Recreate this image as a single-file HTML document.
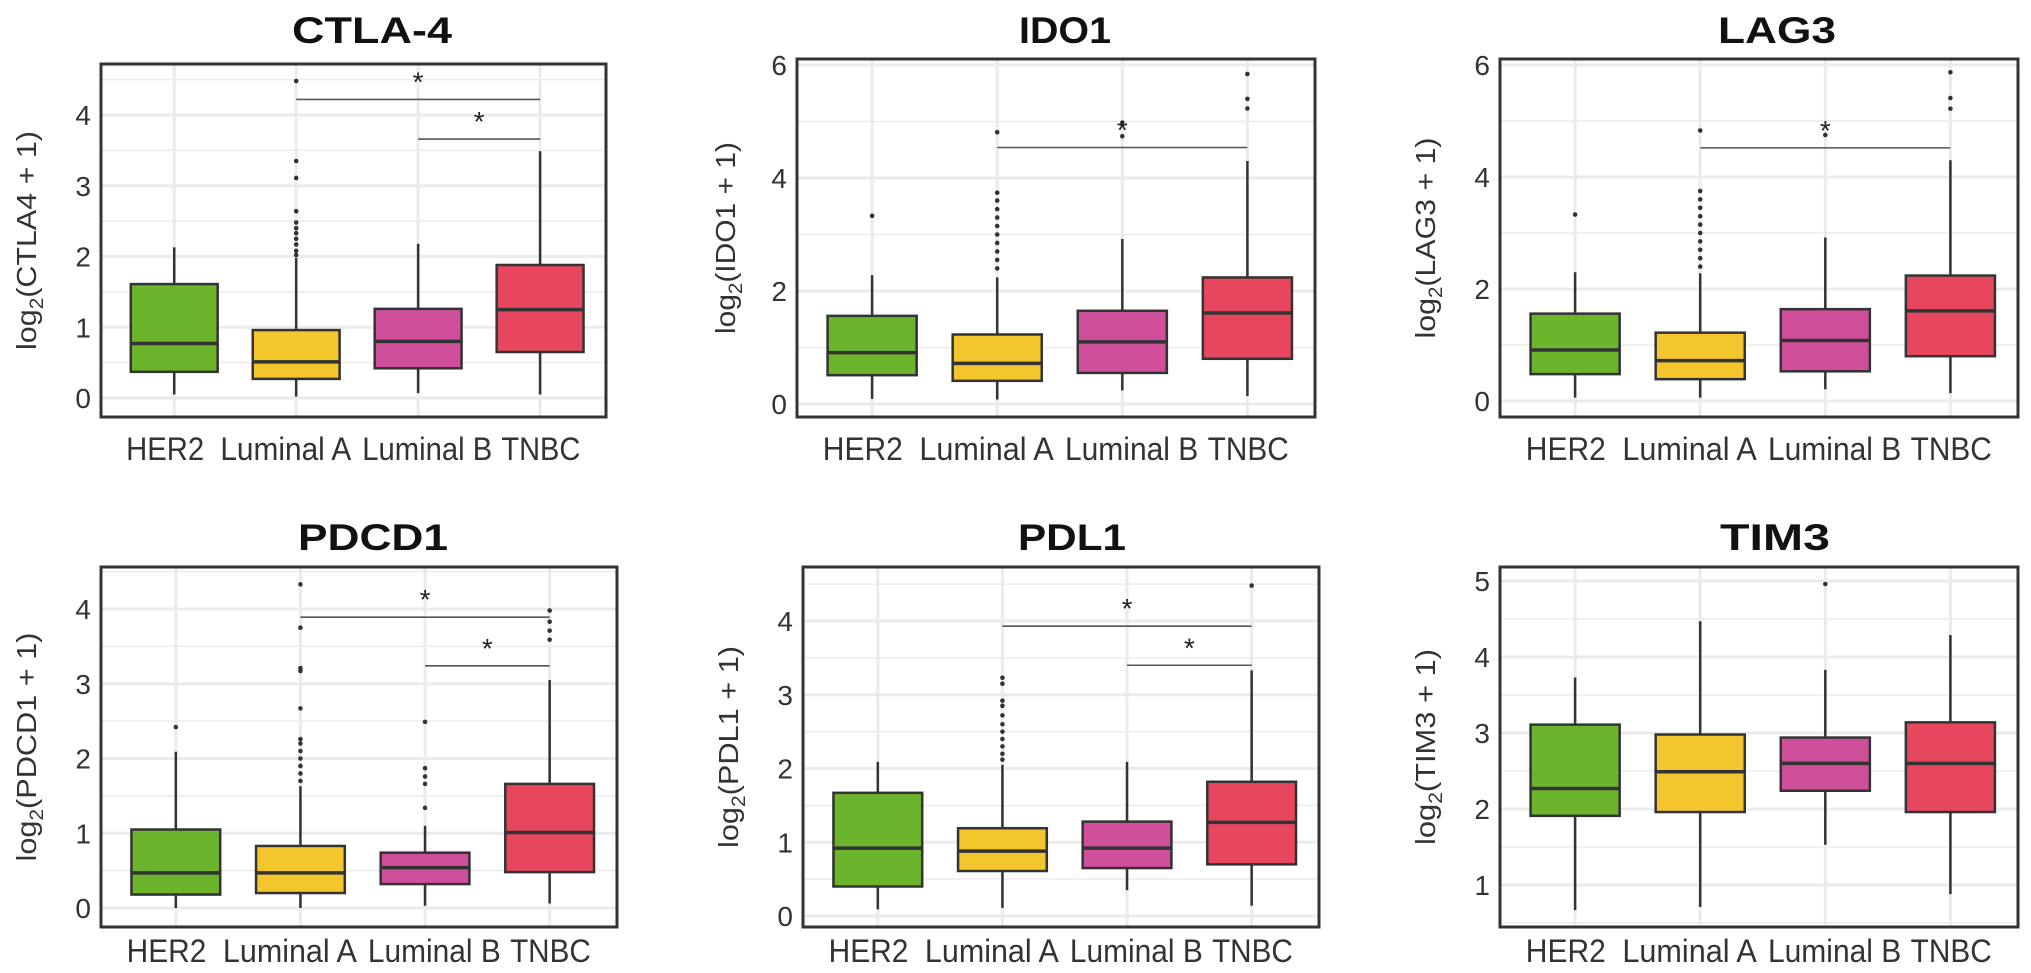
<!DOCTYPE html>
<html><head><meta charset="utf-8"><style>
html,body{margin:0;padding:0;background:#fff;}
svg{display:block;font-family:"Liberation Sans",Arial,sans-serif;}
</style></head><body>
<svg id="fig" width="2031" height="973" viewBox="0 0 2031 973" xmlns="http://www.w3.org/2000/svg"></svg>
<script>
const categories = ["HER2","Luminal A","Luminal B","TNBC"];
const catColors = ["#6cb42c","#f3c62d","#cf4f9b","#e6475f"];

// CTLA-4
const ctla4Ticks = [0,1,2,3,4];
const ctla4WLow = [0.05,0.02,0.07,0.05];
const ctla4Q1 = [0.37,0.27,0.42,0.65];
const ctla4Med = [0.77,0.51,0.80,1.25];
const ctla4Q3 = [1.61,0.96,1.26,1.88];
const ctla4WHigh = [2.13,1.98,2.18,3.49];
const ctla4Out = [[],[4.48,3.35,3.11,2.64,2.48,2.40,2.33,2.25,2.17,2.08,2.02],[],[]];
const ctla4Sig = [[1,3,4.22],[2,3,3.66]];

// IDO1
const ido1Ticks = [0,2,4,6];
const ido1WLow = [0.09,0.08,0.24,0.14];
const ido1Q1 = [0.51,0.41,0.55,0.80];
const ido1Med = [0.91,0.72,1.10,1.61];
const ido1Q3 = [1.56,1.23,1.65,2.24];
const ido1WHigh = [2.28,2.24,2.92,4.30];
const ido1Out = [[3.33],[4.81,3.74,3.60,3.45,3.30,3.15,3.00,2.85,2.70,2.55,2.40],[4.74,4.98],[5.84,5.40,5.23]];
const ido1Sig = [[1,3,4.54]];

// LAG3
const lag3Ticks = [0,2,4,6];
const lag3WLow = [0.06,0.06,0.21,0.14];
const lag3Q1 = [0.48,0.39,0.53,0.80];
const lag3Med = [0.91,0.72,1.08,1.61];
const lag3Q3 = [1.56,1.22,1.64,2.24];
const lag3WHigh = [2.30,2.28,2.92,4.30];
const lag3Out = [[3.33],[4.83,3.75,3.60,3.45,3.30,3.15,3.00,2.85,2.70,2.55,2.40],[4.75],[5.87,5.41,5.22]];
const lag3Sig = [[1,3,4.52]];

// PDCD1
const pdcd1Ticks = [0,1,2,3,4];
const pdcd1WLow = [0.0,0.0,0.03,0.06];
const pdcd1Q1 = [0.18,0.20,0.32,0.48];
const pdcd1Med = [0.47,0.47,0.54,1.01];
const pdcd1Q3 = [1.05,0.83,0.74,1.66];
const pdcd1WHigh = [2.09,1.63,1.10,3.05];
const pdcd1Out = [[2.42],[4.33,3.75,3.21,3.17,2.67,2.26,2.20,2.10,2.00,1.90,1.80,1.70],[2.49,1.87,1.76,1.66,1.34],[3.98,3.83,3.71,3.59]];
const pdcd1Sig = [[1,3,3.89],[2,3,3.24]];

// PDL1
const pdl1Ticks = [0,1,2,3,4];
const pdl1WLow = [0.09,0.11,0.35,0.14];
const pdl1Q1 = [0.40,0.61,0.65,0.70];
const pdl1Med = [0.92,0.88,0.92,1.27];
const pdl1Q3 = [1.67,1.19,1.28,1.82];
const pdl1WHigh = [2.09,2.05,2.09,3.33];
const pdl1Out = [[],[3.23,3.15,2.92,2.85,2.72,2.60,2.50,2.40,2.30,2.20,2.12],[],[4.48]];
const pdl1Sig = [[1,3,3.93],[2,3,3.40]];

// TIM3
const tim3Ticks = [1,2,3,4,5];
const tim3WLow = [0.67,0.71,1.53,0.88];
const tim3Q1 = [1.91,1.96,2.24,1.96];
const tim3Med = [2.27,2.49,2.60,2.60];
const tim3Q3 = [3.11,2.98,2.94,3.14];
const tim3WHigh = [3.73,4.47,3.83,4.29];
const tim3Out = [[],[],[4.96],[]];
const tim3Sig = [];

const panels = [
 {key:"ctla4",title:"CTLA-4",ylab:"(CTLA4 + 1)",x0:101,x1:606,y0:64,y1:417,vA:0,pA:398,vB:4,pB:115,tx:372,ty:43,lx:448,ytx:26,tw:160,yl:219,
  ticks:ctla4Ticks,wl:ctla4WLow,q1:ctla4Q1,med:ctla4Med,q3:ctla4Q3,wh:ctla4WHigh,out:ctla4Out,sig:ctla4Sig},
 {key:"ido1",title:"IDO1",ylab:"(IDO1 + 1)",x0:797,x1:1315,y0:59,y1:417,vA:0,pA:404,vB:6,pB:65,tx:1065,ty:43,lx:448,ytx:725,tw:92,yl:192,
  ticks:ido1Ticks,wl:ido1WLow,q1:ido1Q1,med:ido1Med,q3:ido1Q3,wh:ido1WHigh,out:ido1Out,sig:ido1Sig},
 {key:"lag3",title:"LAG3",ylab:"(LAG3 + 1)",x0:1500,x1:2018,y0:59,y1:417,vA:0,pA:401,vB:6,pB:65,tx:1777,ty:43,lx:448,ytx:1425,tw:118,yl:201,
  ticks:lag3Ticks,wl:lag3WLow,q1:lag3Q1,med:lag3Med,q3:lag3Q3,wh:lag3WHigh,out:lag3Out,sig:lag3Sig},
 {key:"pdcd1",title:"PDCD1",ylab:"(PDCD1 + 1)",x0:101,x1:617,y0:567,y1:927,vA:0,pA:908,vB:4,pB:609,tx:373,ty:550,lx:950,ytx:26,tw:150,yl:229,
  ticks:pdcd1Ticks,wl:pdcd1WLow,q1:pdcd1Q1,med:pdcd1Med,q3:pdcd1Q3,wh:pdcd1WHigh,out:pdcd1Out,sig:pdcd1Sig},
 {key:"pdl1",title:"PDL1",ylab:"(PDL1 + 1)",x0:803,x1:1319,y0:567,y1:927,vA:0,pA:916,vB:4,pB:621,tx:1072,ty:550,lx:950,ytx:728,tw:108,yl:202,
  ticks:pdl1Ticks,wl:pdl1WLow,q1:pdl1Q1,med:pdl1Med,q3:pdl1Q3,wh:pdl1WHigh,out:pdl1Out,sig:pdl1Sig},
 {key:"tim3",title:"TIM3",ylab:"(TIM3 + 1)",x0:1500,x1:2018,y0:567,y1:927,vA:1,pA:885,vB:5,pB:581,tx:1775,ty:550,lx:950,ytx:1425,tw:110,yl:196,
  ticks:tim3Ticks,wl:tim3WLow,q1:tim3Q1,med:tim3Med,q3:tim3Q3,wh:tim3WHigh,out:tim3Out,sig:tim3Sig}
];
const labelLens = [78,131,130,79];
const labelPos = [0.127,0.366,0.646,0.871];
const NS = "http://www.w3.org/2000/svg";
const svg = document.getElementById("fig");
function mk(tag, attrs, parent){
  const e = document.createElementNS(NS, tag);
  for (const k in attrs) e.setAttribute(k, attrs[k]);
  (parent||svg).appendChild(e);
  return e;
}
panels.forEach(p=>{
  const g = mk("g",{});
  
  
  const W = p.x1 - p.x0;
  const ys = v => p.pA + (v - p.vA) * (p.pB - p.pA) / (p.vB - p.vA);
  const xs = i => p.x0 + W * (0.145 + 0.2415 * i);
  const bw = W * 0.172;
  const step = p.ticks[1] - p.ticks[0];
  const vmin = p.vA + (p.y1 - p.pA) / ((p.pB - p.pA) / (p.vB - p.vA));
  const vmax = p.vA + (p.y0 - p.pA) / ((p.pB - p.pA) / (p.vB - p.vA));
  for (let v = Math.ceil(vmin / (step/2)) * (step/2); v <= vmax; v += step/2) {
    const major = p.ticks.some(t => Math.abs(t - v) < 1e-6);
    const l = mk("line",{x1:p.x0,x2:p.x1,y1:ys(v),y2:ys(v),stroke:"#ebebeb","stroke-width":major?3:1.5},g);
    
    
  }
  categories.forEach((c,i)=>{
    const l = mk("line",{x1:xs(i),x2:xs(i),y1:p.y0,y2:p.y1,stroke:"#ebebeb","stroke-width":3},g);
    
    
  });
  categories.forEach((c,i)=>{
    const x = xs(i);
    const bg = mk("g",{},g);
    
    
    mk("line",{x1:x,x2:x,y1:ys(p.wh[i]),y2:ys(p.q3[i]),stroke:"#333","stroke-width":2.5},bg);
    mk("line",{x1:x,x2:x,y1:ys(p.q1[i]),y2:ys(p.wl[i]),stroke:"#333","stroke-width":2.5},bg);
    mk("rect",{x:x-bw/2,y:ys(p.q3[i]),width:bw,height:ys(p.q1[i])-ys(p.q3[i]),fill:catColors[i],stroke:"#333","stroke-width":2.5},bg);
    mk("line",{x1:x-bw/2,x2:x+bw/2,y1:ys(p.med[i]),y2:ys(p.med[i]),stroke:"#333","stroke-width":3.5},bg);
    p.out[i].forEach(v=>{
      const d = mk("circle",{cx:x,cy:ys(v),r:2.3,fill:"#333"},bg);
      
      
    });
  });
  p.sig.forEach(s=>{
    const l = mk("line",{x1:xs(s[0]),x2:xs(s[1]),y1:ys(s[2]),y2:ys(s[2]),stroke:"#555","stroke-width":1.6},g);
    
    
    const t = mk("text",{x:(xs(s[0])+xs(s[1]))/2,y:ys(s[2])-8,"font-size":28,"text-anchor":"middle",fill:"#222"},g);
    t.textContent = "*";
    
    
  });
  const b = mk("rect",{x:p.x0,y:p.y0,width:W,height:p.y1-p.y0,fill:"none",stroke:"#333","stroke-width":3},g);
  
  
  p.ticks.forEach(t=>{
    const tl = mk("text",{x:p.x0-10,y:ys(t)+10,"font-size":28,"text-anchor":"end",fill:"#333"},g);
    tl.textContent = t;
    
    
  });
  categories.forEach((c,i)=>{
    const tl = mk("text",{x:p.x0 + W*labelPos[i],y:p.lx+12,"font-size":32,"text-anchor":"middle",fill:"#333",textLength:labelLens[i]*W/505,lengthAdjust:"spacingAndGlyphs"},g);
    tl.textContent = c;
    
    
  });
  const tt = mk("text",{x:p.tx,y:p.ty,"font-size":37,"font-weight":"bold","text-anchor":"middle",fill:"#111",textLength:p.tw,lengthAdjust:"spacingAndGlyphs"},g);
  tt.textContent = p.title;
  
  
  const cy = (p.y0+p.y1)/2;
  const yt = mk("text",{x:0,y:0,"font-size":28,"text-anchor":"middle",fill:"#333",textLength:p.yl,lengthAdjust:"spacingAndGlyphs",transform:`translate(${p.ytx+10},${cy}) rotate(-90)`},g);
  
  
  const t1 = mk("tspan",{},yt); t1.textContent = "log";
  const t2 = mk("tspan",{"font-size":19,dy:7},yt); t2.textContent = "2";
  const t3 = mk("tspan",{dy:-7},yt); t3.textContent = p.ylab;
});
</script>
</body></html>
